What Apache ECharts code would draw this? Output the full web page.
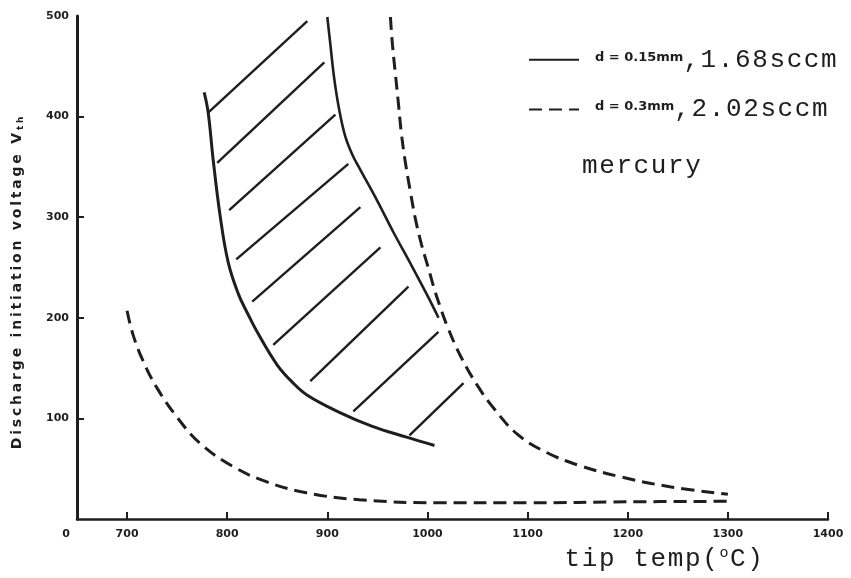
<!DOCTYPE html>
<html><head><meta charset="utf-8">
<script src="https://cdn.jsdelivr.net/npm/echarts@6/dist/echarts.min.js"></script>
<style>html,body{margin:0;padding:0;background:#fff}#c{width:851px;height:578px}</style>
</head><body><div id="c"></div>
<script>
// ---- data ----
const xTickValues = [700, 800, 900, 1000, 1100, 1200, 1300, 1400];
const xOriginValue = 650;          // broken-axis origin, labelled "0"
const xOriginLabel = '0';
const yTickValues = [100, 200, 300, 400];
const yLabelValues = [100, 200, 300, 400, 500];

const seriesNames = ['d = 0.15mm,1.68sccm', 'd = 0.3mm,2.02sccm'];
const legendSmall = ['d = 0.15mm', 'd = 0.3mm'];
const legendBig = [',1.68sccm', ',2.02sccm'];
const noteText = 'mercury';
const xName = ['tip temp(', 'o', 'C)'];
const yName = ['Discharge initiation voltage V', 'th'];

// d = 0.15mm (solid): left and right boundaries of the hatched band
const solidLeft = [[777,424],[781,404],[786,357],[793,301],[801,255],[811,224],[820,205],[831,184],[850,153],[865,136],[880,123],[912,106],[945,92],[980,81],[1007,73]];
const solidRight = [[900,499],[903,472],[907,437],[912,406],[918,380],[925,362],[933,347],[950,316],[966,285],[983,254],[1000,222],[1011,200]];
// hatch strokes inside the band: [[T1,V1],[T2,V2]]
const hatch = [
  [[781,404],[880,495]],
  [[790,354],[897,454]],
  [[802,307],[908,402]],
  [[809,258],[921,353]],
  [[825,216],[933,310]],
  [[846,173],[953,270]],
  [[883,137],[981,231]],
  [[926,107],[1011,186]],
  [[982,83],[1036,135]]
];
// d = 0.3mm (dashed)
const dashRight = [[963,499],[965,472],[968,442],[971,413],[974,383],[978,354],[983,325],[988,298],[994,273],[1001,249],[1007,228],[1013,210],[1020,191],[1033,162],[1049,134],[1067,109],[1090,84],[1119,66],[1152,53],[1192,42],[1242,32],[1300,24.5]];
const dashLow = [[700,207],[706,183],[716,157],[730,130],[750,101],[773,75],[806,52],[839,37],[879,26],[932,19],[1012,16],[1100,16],[1200,17],[1300,17.5]];

// ---- typewriter-like letter spacing for selected font families ----
const spacingByFamily = {'monospace': '1.6px', 'sans-serif': '2.8px'};
(function () {
  const proto = CanvasRenderingContext2D.prototype;
  const desc = Object.getOwnPropertyDescriptor(proto, 'font');
  if (!desc || !('letterSpacing' in proto)) return;
  Object.defineProperty(proto, 'font', {
    configurable: true, enumerable: desc.enumerable,
    get: function () { return desc.get.call(this); },
    set: function (v) {
      desc.set.call(this, v);
      let ls = '0px';
      for (const k in spacingByFamily) {
        if (String(v).indexOf(k) >= 0) { ls = spacingByFamily[k]; break; }
      }
      this.letterSpacing = ls;
    }
  });
})();

// ---- chart ----
const ink = '#1e1e1e';
const mono = "'Liberation Mono', monospace";
const nameFont = "'DejaVu Sans', sans-serif";
const chart = echarts.init(document.getElementById('c'), null, {renderer: 'canvas'});
const solidStyle = {color: ink, width: 3, type: 'solid'};
const dashStyle = {color: ink, width: 3, type: [13, 7]};

chart.setOption({
  backgroundColor: '#fff',
  animation: false,
  color: [ink],
  grid: {left: 77, right: 23, top: 16, bottom: 52, containLabel: false},
  title: {
    text: noteText, left: 582, top: 152, padding: 0,
    textStyle: {fontFamily: mono, fontSize: 26, fontWeight: 'normal', color: ink}
  },
  legend: {
    data: seriesNames,
    orient: 'vertical', left: 528, top: 46, padding: 0,
    itemWidth: 50, itemHeight: 14, itemGap: 22,
    itemStyle: {opacity: 0},
    formatter: name => {
      const i = seriesNames.indexOf(name);
      return '{s|' + legendSmall[i] + '}{b|' + legendBig[i] + '}';
    },
    textStyle: {
      color: ink, fontFamily: mono, fontSize: 26,
      rich: {
        s: {fontFamily: 'DejaVu Sans', fontWeight: 'bold', fontSize: 13, color: ink, padding: [0, 0, 5, 11]},
        b: {fontFamily: mono, fontSize: 26, color: ink}
      }
    }
  },
  xAxis: {
    type: 'value', min: xOriginValue, max: 1400,
    axisLine: {show: true, lineStyle: {color: ink, width: 2.5}},
    axisTick: {show: true, inside: true, length: 7, lineStyle: {color: ink, width: 2}, customValues: xTickValues},
    axisLabel: {
      customValues: [xOriginValue].concat(xTickValues),
      formatter: v => v === xOriginValue ? '{o|' + xOriginLabel + '}' : String(v),
      color: ink, fontFamily: 'DejaVu Sans', fontWeight: 'bold', fontSize: 11, margin: 10,
      rich: {o: {fontFamily: 'DejaVu Sans', fontWeight: 'bold', fontSize: 11, color: ink, padding: [0, 22, 0, 0]}}
    },
    splitLine: {show: false},
    name: '{m|' + xName[0] + '}{o|' + xName[1] + '}{m|' + xName[2] + '}',
    nameLocation: 'middle', nameGap: 26,
    nameTextStyle: {
      padding: [0, 0, 0, 424],
      rich: {
        m: {fontFamily: mono, fontSize: 26, color: ink},
        o: {fontFamily: mono, fontSize: 15, color: ink, padding: [0, 0, 12, 0]}
      }
    }
  },
  yAxis: {
    type: 'value', min: 0, max: 500,
    axisLine: {show: true, lineStyle: {color: ink, width: 3}},
    axisTick: {show: true, inside: true, length: 7, lineStyle: {color: ink, width: 2}, customValues: yTickValues},
    axisLabel: {
      customValues: yLabelValues,
      color: ink, fontFamily: 'DejaVu Sans', fontWeight: 'bold', fontSize: 11, margin: 8
    },
    splitLine: {show: false},
    name: '{m|' + yName[0] + '}{s|' + yName[1] + '}',
    nameLocation: 'middle', nameGap: 50, nameRotate: 90,
    nameTextStyle: {
      padding: [0, 28, 0, 0],
      rich: {
        m: {fontFamily: nameFont, fontWeight: 'bold', fontSize: 14, color: ink},
        s: {fontFamily: nameFont, fontWeight: 'bold', fontSize: 9, color: ink, padding: [7, 0, 0, 0]}
      }
    }
  },
  series: [
    {name: seriesNames[0], type: 'line', data: solidLeft, symbol: 'none', smooth: 0.4, lineStyle: solidStyle, itemStyle: {color: ink}, z: 3},
    {name: seriesNames[0], type: 'line', data: solidRight, symbol: 'none', smooth: 0.4, lineStyle: {color: ink, width: 2.6}, itemStyle: {color: ink}, z: 3},
    {name: seriesNames[0], type: 'lines', coordinateSystem: 'cartesian2d',
     data: hatch.map(s => ({coords: s})), lineStyle: {color: ink, width: 2.4, opacity: 1}, z: 2},
    {name: seriesNames[1], type: 'line', data: dashRight, symbol: 'none', smooth: 0.4, lineStyle: dashStyle, itemStyle: {color: ink}, z: 3},
    {name: seriesNames[1], type: 'line', data: dashLow, symbol: 'none', smooth: 0.4, lineStyle: dashStyle, itemStyle: {color: ink}, z: 3}
  ]
});
</script>
</body></html>
